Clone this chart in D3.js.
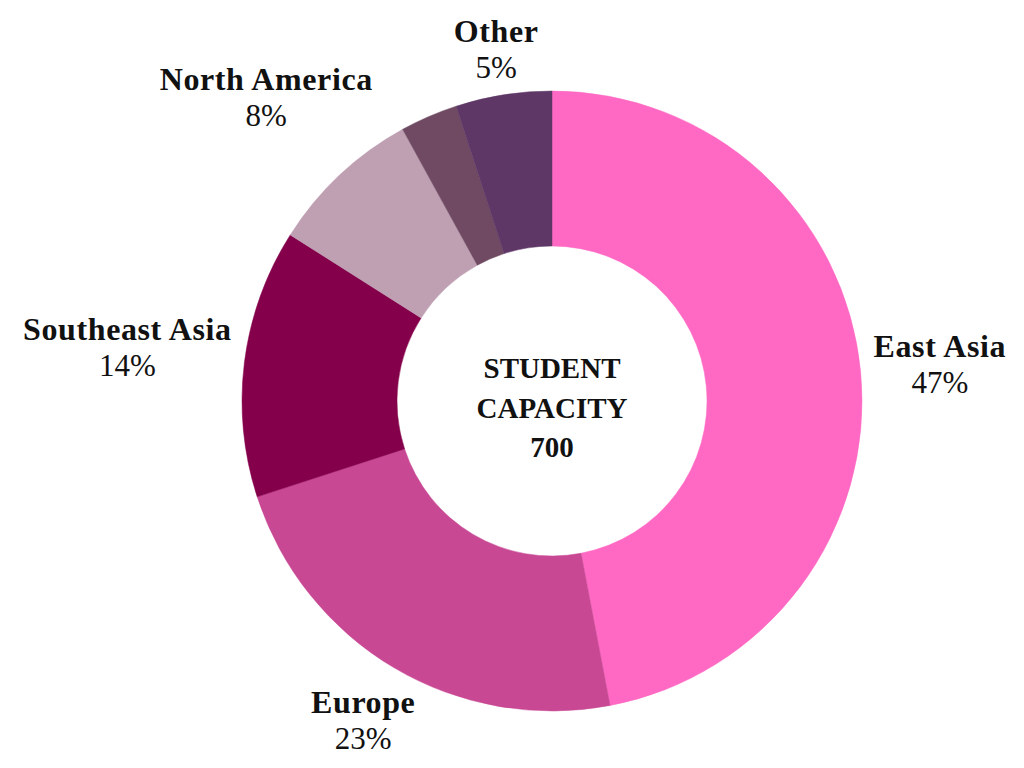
<!DOCTYPE html>
<html>
<head>
<meta charset="utf-8">
<script src="https://cdn.jsdelivr.net/npm/d3@7"></script>
<style>
  body { margin: 0; background: #fff; }
  svg { display: block; }
</style>
</head>
<body>
<div id="chart"></div>
<script>
(function(){
// data
const regions = ['East Asia', 'Europe', 'Southeast Asia', 'North America', '', 'Other'];
const shares = [47, 23, 14, 8, 3, 5];
const colors = ['#ff69c4', '#c84894', '#85004b', '#bf9fb2', '#6f4a62', '#5e3766'];
const centerLines = ['STUDENT', 'CAPACITY', '700'];

const width = 1024, height = 768;
const cx = 552, cy = 401;
const outerR = 310, innerR = 155;
const labelR = 323;
// extra radial push for crowded labels
const labelPush = { 'North America': 45, 'Europe': 6, 'Other': -3 };

const data = regions.map((r, i) => ({ region: r, value: shares[i], color: colors[i] }));

const svg = d3.select('#chart')
    .append('svg')
    .attr('width', width)
    .attr('height', height);

const g = svg.append('g')
    .attr('transform', `translate(${cx},${cy})`);

const pie = d3.pie()
    .value(d => d.value)
    .sort(null);

const arc = d3.arc()
    .innerRadius(innerR)
    .outerRadius(outerR);

const arcs = pie(data);

g.selectAll('path.slice')
    .data(arcs)
    .enter()
    .append('path')
    .attr('class', 'slice')
    .attr('d', arc)
    .attr('fill', d => d.data.color)
    .attr('stroke', d => d.data.color)
    .attr('stroke-width', 0.5);

// outside labels
const font = "'Liberation Serif', 'Times New Roman', serif";
arcs.filter(d => d.data.region !== '').forEach(d => {
    const lbl = g.append('text')
        .attr('text-anchor', 'middle')
        .attr('font-family', font)
        .attr('fill', '#111');
    lbl.append('tspan')
        .attr('x', 0)
        .attr('y', 0)
        .attr('font-weight', 'bold')
        .attr('font-size', '32px')
        .attr('letter-spacing', '0.6px')
        .text(d.data.region);
    lbl.append('tspan')
        .attr('x', 0)
        .attr('y', 36)
        .attr('font-size', '31px')
        .text(d.data.value + '%');

    const bb = lbl.node().getBBox();
    const w = bb.width / 2, h = bb.height / 2;
    const mid = (d.startAngle + d.endAngle) / 2;
    const sx = Math.sin(mid), sy = -Math.cos(mid);
    const ext = Math.min(w / Math.max(Math.abs(sx), 1e-6), h / Math.max(Math.abs(sy), 1e-6));
    const dist = labelR + ext + (labelPush[d.data.region] || 0);
    const px = sx * dist, py = sy * dist;
    // centre the block on (px, py)
    const ox = px - (bb.x + w);
    const oy = py - (bb.y + h);
    lbl.attr('transform', `translate(${ox},${oy})`);
});

// center text
g.append('text')
    .attr('text-anchor', 'middle')
    .attr('font-family', font)
    .attr('font-weight', 'bold')
    .attr('font-size', '29px')
    .attr('fill', '#111')
    .selectAll('tspan')
    .data(centerLines)
    .enter()
    .append('tspan')
    .attr('x', 0)
    .attr('y', (d, i) => -23 + i * 39.5)
    .text(d => d);

})();
</script>
</body>
</html>
